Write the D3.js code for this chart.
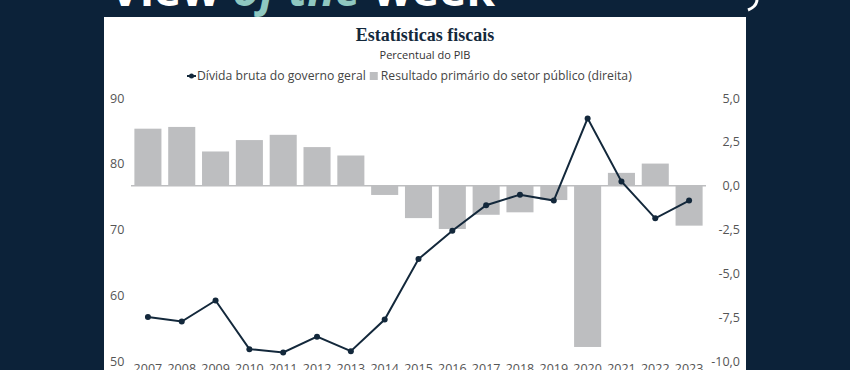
<!DOCTYPE html>
<html>
<head>
<meta charset="utf-8">
<script src="https://cdn.jsdelivr.net/npm/d3@7"></script>
<style>
  html, body { margin: 0; padding: 0; background: #0c2239; }
  svg { display: block; }
</style>
</head>
<body>
<svg id="chart" width="850" height="370"></svg>
<script>
// data
var years = ['2007','2008','2009','2010','2011','2012','2013','2014','2015','2016','2017','2018','2019','2020','2021','2022','2023'];
var divida = [56.7, 56.0, 59.2, 51.8, 51.3, 53.7, 51.5, 56.3, 65.5, 69.8, 73.7, 75.3, 74.4, 86.9, 77.3, 71.7, 74.4];
var primario = [3.25, 3.35, 1.95, 2.6, 2.9, 2.2, 1.72, -0.53, -1.85, -2.47, -1.66, -1.52, -0.82, -9.2, 0.73, 1.26, -2.28];
var leftTicks = [50, 60, 70, 80, 90];
var rightTicks = [-10, -7.5, -5, -2.5, 0, 2.5, 5];

var sans = "'Open Sans', sans-serif";
var svg = d3.select('#chart');

// header text, mostly cut off at the top
var head = svg.append('text').attr('y', 6).attr('font-family', "'Open Sans', sans-serif")
  .attr('font-weight', 700).attr('font-size', 46).attr('fill', '#fff');
head.append('tspan').attr('x', 110).text('View ');
head.append('tspan').attr('fill', '#8fc8c1').attr('font-style', 'italic').text('of the ');
head.append('tspan').text('week');
svg.append('path').attr('d', 'M752,-10 C760,-2 758,6 748,10').attr('fill', 'none')
  .attr('stroke', '#fff').attr('stroke-width', 3);

// white card
svg.append('rect').attr('x', 104).attr('y', 17).attr('width', 642).attr('height', 360).attr('fill', '#fff');

svg.append('text').attr('x', 425).attr('y', 41).attr('text-anchor', 'middle')
  .attr('font-family', "'Liberation Serif', serif").attr('font-weight', 700).attr('font-size', 18)
  .attr('fill', '#13283b').text('Estatísticas fiscais');
svg.append('text').attr('x', 425).attr('y', 59).attr('text-anchor', 'middle')
  .attr('font-family', sans).attr('font-size', 11).attr('fill', '#333').text('Percentual do PIB');

var x = d3.scaleBand().domain(years).range([131, 706]).paddingInner(0.2).paddingOuter(0.1);
var yL = d3.scaleLinear().domain([50, 90]).range([361, 98]);
var yR = d3.scaleLinear().domain([-10, 5]).range([361, 98]);

// axes (labels only)
var axL = svg.append('g').attr('transform', 'translate(110,0)')
  .call(d3.axisRight(yL).tickValues(leftTicks).tickSize(0).tickPadding(0));
var axR = svg.append('g').attr('transform', 'translate(740,0)')
  .call(d3.axisLeft(yR).tickValues(rightTicks).tickSize(0).tickPadding(0)
    .tickFormat(function(d){ return d3.format('.1f')(d).replace('.', ',').replace('−', '-'); }));
var axX = svg.append('g').attr('transform', 'translate(0,364)')
  .call(d3.axisBottom(x).tickSize(0).tickPadding(0));
[axL, axR, axX].forEach(function(a){
  a.select('.domain').remove();
  a.selectAll('text').attr('font-family', sans).attr('font-size', 12.5).attr('fill', '#555');
});
axX.selectAll('text').attr('dy', '0.71em');

// bars
svg.append('g').selectAll('rect').data(primario).enter().append('rect')
  .attr('x', function(d, i){ return x(years[i]); })
  .attr('width', x.bandwidth())
  .attr('y', function(d){ return yR(Math.max(0, d)); })
  .attr('height', function(d){ return Math.abs(yR(d) - yR(0)); })
  .attr('fill', '#bdbec0');

svg.append('line').attr('x1', 131).attr('x2', 706).attr('y1', yR(0)).attr('y2', yR(0))
  .attr('stroke', '#bdbec0').attr('stroke-width', 1.5);

// line
var cx = function(d, i){ return x(years[i]) + x.bandwidth() / 2; };
var line = d3.line().x(cx).y(function(d){ return yL(d); });
svg.append('path').datum(divida).attr('d', line).attr('fill', 'none')
  .attr('stroke', '#13283b').attr('stroke-width', 2);
svg.append('g').selectAll('circle').data(divida).enter().append('circle')
  .attr('cx', cx).attr('cy', function(d){ return yL(d); }).attr('r', 3).attr('fill', '#13283b');

// legend
var lg = svg.append('g').attr('font-family', sans).attr('font-size', 12.2).attr('fill', '#444');
var l1 = lg.append('text').attr('x', 197).attr('y', 80).text('Dívida bruta do governo geral');
var w1 = l1.node().getComputedTextLength();
lg.append('line').attr('x1', 187).attr('x2', 196).attr('y1', 76).attr('y2', 76).attr('stroke', '#13283b').attr('stroke-width', 2);
lg.append('circle').attr('cx', 191.5).attr('cy', 76).attr('r', 2.5).attr('fill', '#13283b');
lg.append('rect').attr('x', 197 + w1 + 4).attr('y', 72).attr('width', 8).attr('height', 8).attr('fill', '#bdbec0');
lg.append('text').attr('x', 197 + w1 + 15).attr('y', 80).text('Resultado primário do setor público (direita)');
</script>
</body>
</html>
